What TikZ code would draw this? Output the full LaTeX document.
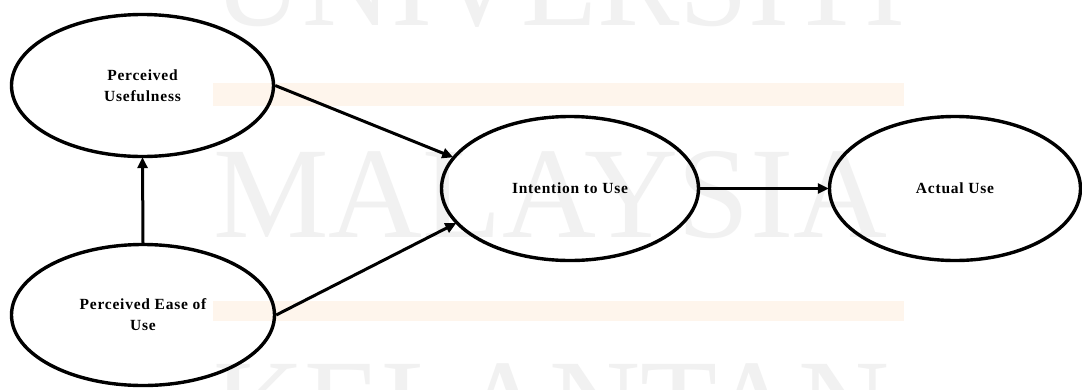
\documentclass[tikz,border=0pt]{standalone}
\usepackage{fontspec}
\setmainfont{Liberation Serif}
\newfontfamily\lblfont[LetterSpace=5]{Liberation Serif}
\newfontfamily\wmfont{Liberation Serif}
\usetikzlibrary{shapes.geometric,arrows.meta}
\definecolor{wmgray}{HTML}{F1F1F1}
\definecolor{wmband}{HTML}{FEF5EC}
\tikzset{
  construct/.style={ellipse, draw=black, line width=3.4pt, inner sep=0pt,
    align=center, font=\lblfont\bfseries\fontsize{15.5}{21}\selectfont},
  path arrow/.style={line width=3pt, -{Triangle[length=11pt,width=10pt]}, shorten >=-1pt},
  watermark/.style={text=wmgray, inner sep=0pt, anchor=base west,
    font=\wmfont\fontsize{130}{130}\selectfont},
  band/.style={fill=wmband, draw=none}
}
\begin{document}
\begin{tikzpicture}[x=1pt,y=-1pt]
  \useasboundingbox[fill=white] (0,0) rectangle (1082,389);

  % background watermark
  \fill[band] (213,83) rectangle (904,106);
  \fill[band] (213,301) rectangle (904,321);
  \node[watermark, xscale=0.95, transform shape] (wmtop) at (213,25) {UNIVERSITI};
  \node[watermark] (wmmid) at (213,237) {MALAYSIA};
  \node[watermark, xscale=0.97, transform shape] (wmbot) at (213,449) {KELANTAN};

  % constructs
  \node[construct, minimum width=262pt, minimum height=142pt] (pu) at (142.5,85.5)
    {Perceived\\Usefulness};
  \node[construct, minimum width=263pt, minimum height=141pt] (peou) at (143,315)
    {Perceived Ease of\\Use};
  \node[construct, minimum width=257pt, minimum height=144pt] (itu) at (570,188.5)
    {Intention to Use};
  \node[construct, minimum width=251pt, minimum height=144pt] (au) at (955,188.5)
    {Actual Use};

  % relationships
  \draw[path arrow] (peou.north) -- (pu.south);
  \draw[path arrow] (pu.east) -- (itu.165);
  \draw[path arrow] (peou.east) -- (itu.197);
  \draw[path arrow] (itu.east) -- (au.west);
\end{tikzpicture}
\end{document}
